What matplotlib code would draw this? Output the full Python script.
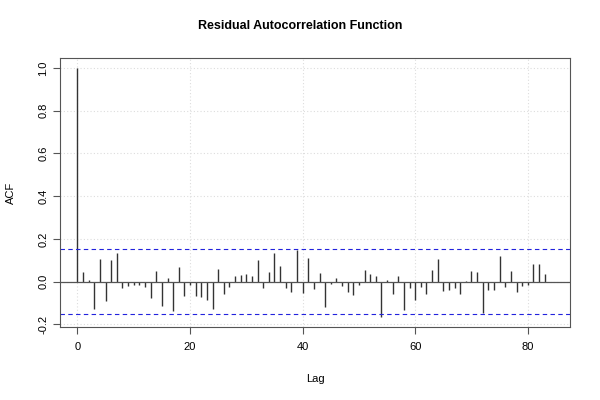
import numpy as np
import matplotlib
matplotlib.use("Agg")
import matplotlib.pyplot as plt

plt.rcParams['font.family'] = ['Liberation Sans', 'DejaVu Sans']

# -----------------------------
# DATA
# -----------------------------
lags = np.arange(0, 84)
acf_values = [
    1.000, 0.045, 0.008, -0.128, 0.107, -0.092, 0.100, 0.132, -0.028, -0.022,
    -0.016, -0.016, -0.023, -0.078, 0.049, -0.113, 0.017, -0.138, 0.069, -0.067,
    -0.017, -0.069, -0.072, -0.086, -0.130, 0.061, -0.056, -0.024, 0.027, 0.030,
    0.036, 0.025, 0.102, -0.031, 0.044, 0.132, 0.072, -0.031, -0.050, 0.146,
    -0.053, 0.110, -0.033, 0.042, -0.118, -0.010, 0.016, -0.019, -0.047, -0.063,
    -0.014, 0.053, 0.036, 0.024, -0.165, 0.008, -0.060, 0.025, -0.132, -0.031,
    -0.086, -0.027, -0.060, 0.053, 0.105, -0.045, -0.041, -0.030, -0.058, 0.002,
    0.050, 0.047, -0.146, -0.041, -0.041, 0.121, -0.024, 0.050, -0.047, -0.019,
    -0.014, 0.083, 0.083, 0.034,
]
conf_limit = 0.153
x_ticks = [0, 20, 40, 60, 80]
y_ticks = [-0.2, 0.0, 0.2, 0.4, 0.6, 0.8, 1.0]

# -----------------------------
# PLOT
# -----------------------------
fig = plt.figure(figsize=(6, 4), dpi=100)
ax = fig.add_axes([0.1, 0.183, 0.85, 0.672])

ax.vlines(lags, 0, acf_values, color="#333333", linewidth=1.0)
ax.axhline(0, color="#555555", linewidth=0.9)
ax.axhline(conf_limit, color="#2222dd", linestyle=(0, (4, 3)), linewidth=0.8)
ax.axhline(-conf_limit, color="#2222dd", linestyle=(0, (4, 3)), linewidth=0.8)

ax.set_xlim(-3.1, 87.5)
ax.set_ylim(-0.2116, 1.0466)
ax.set_xticks(x_ticks)
ax.set_yticks(y_ticks)
ax.set_yticklabels([f"{v:.1f}" for v in y_ticks], rotation=90, va="center")
ax.grid(True, color="#dddddd", linestyle=(0, (1, 2)), linewidth=0.8)
ax.set_axisbelow(True)

ax.tick_params(axis="both", labelsize=8, length=5, width=0.8, color="#555555")
ax.tick_params(axis="x", pad=6)
for s in ax.spines.values():
    s.set_color("#555555")
    s.set_linewidth(0.8)

ax.set_xlabel("Lag", fontsize=8, labelpad=16)
ax.set_ylabel("ACF", fontsize=8, labelpad=16)
fig.suptitle("Residual Autocorrelation Function", fontsize=9,
             fontweight="bold", y=0.95)

fig.savefig("out.png", dpi=100)
